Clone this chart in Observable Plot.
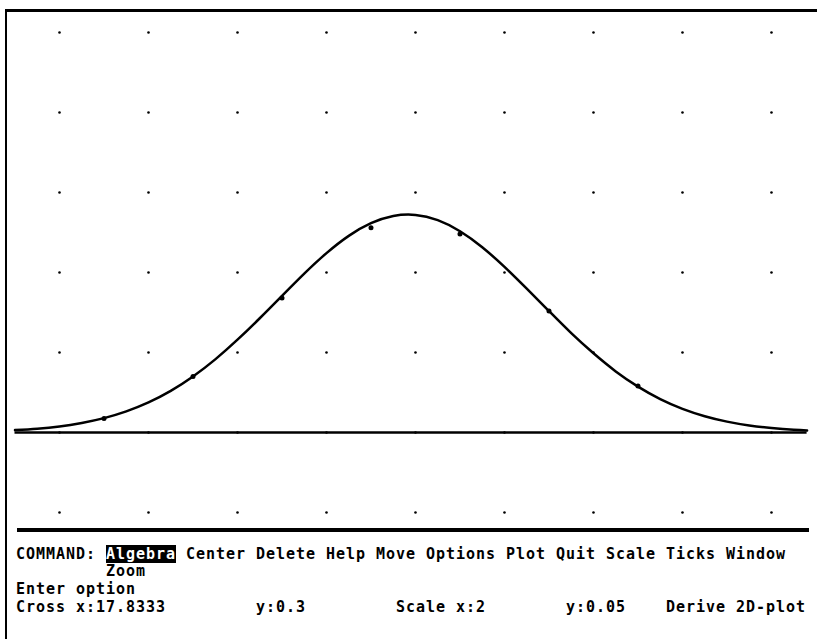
<!DOCTYPE html>
<html>
<head>
<meta charset="utf-8">
<script src="https://cdn.jsdelivr.net/npm/d3@7"></script>
<script src="https://cdn.jsdelivr.net/npm/@observablehq/plot@0.6"></script>
<style>
  html, body { margin: 0; padding: 0; background: white; }
  #screen { position: relative; width: 817px; height: 639px; overflow: hidden; background: white; }
  #chart { position: absolute; left: 0; top: 0; }
  #frame { position: absolute; left: 5px; top: 9px; width: 812px; height: 640px;
           border-top: 3px solid #000; border-left: 2px solid #000; box-sizing: border-box; pointer-events: none; }
  #sep { position: absolute; left: 17px; top: 528px; width: 792px; height: 4px; background: #000; }
  .line { position: absolute; left: 16px; white-space: pre; font-family: "DejaVu Sans Mono", monospace;
          font-weight: bold; font-size: 15px; letter-spacing: 0.97px; line-height: 17px; color: #000; }
  .hi { background: #000; color: #fff; }
</style>
</head>
<body>
<div id="screen">
  <div id="chart"></div>
  <div id="sep"></div>
  <div id="frame"></div>
  <div class="line" id="l1" style="top:546px"></div>
  <div class="line" id="l2" style="top:563px"></div>
  <div class="line" id="l3" style="top:581px"></div>
  <div class="line" id="l4" style="top:599px"></div>
</div>
<script>
// Grid dot positions (Derive tick marks: x step 2, y step 0.05)
const gridX = [10, 12, 14, 16, 18, 20, 22, 24, 26];
const gridY = [-0.05, 0, 0.05, 0.1, 0.15, 0.2, 0.25];

// Plotted curve
const curveX = [9, 9.5, 10, 10.5, 11, 11.5, 12, 12.5, 13, 13.5, 14, 14.5, 15, 15.5, 16, 16.5, 17, 17.5, 18,
                18.5, 19, 19.5, 20, 20.5, 21, 21.5, 22, 22.5, 23, 23.5, 24, 24.5, 25, 25.5, 26, 26.5, 26.8];
const curveY = [0.0015, 0.0024, 0.0038, 0.006, 0.009, 0.0132, 0.0188, 0.026, 0.035, 0.0457, 0.058, 0.0714,
                0.0854, 0.0993, 0.1121, 0.1229, 0.1308, 0.1353, 0.136, 0.1327, 0.1258, 0.1158, 0.1035, 0.0899,
                0.0759, 0.0621, 0.0495, 0.0382, 0.0287, 0.0209, 0.0148, 0.0102, 0.0068, 0.0044, 0.0028, 0.0017, 0.0013];

// Data points
const pointX = [11, 13, 15, 17, 19, 21, 23];
const pointY = [0.0088, 0.035, 0.084, 0.128, 0.124, 0.076, 0.029];

// Command / status line texts
const commandLabel = "COMMAND:";
const menuItems = ["Algebra", "Center", "Delete", "Help", "Move", "Options", "Plot", "Quit", "Scale", "Ticks", "Window", "Zoom"];
const promptText = "Enter option";
const statusFields = ["Cross x:17.8333", "y:0.3", "Scale x:2", "y:0.05", "Derive 2D-plot"];
const statusCols = [0, 24, 38, 55, 65];

const gridPts = d3.cross(gridX, gridY).map(([x, y]) => ({x, y}));
const curve = curveX.map((x, i) => ({x, y: curveY[i]}));
const points = pointX.map((x, i) => ({x, y: pointY[i]}));
const axisRule = [{y: 0, x1: d3.min(curveX), x2: d3.max(curveX)}];

const chart = Plot.plot({
  width: 817,
  height: 528,
  margin: 0,
  x: {domain: [8.674, 27.034], axis: null},
  y: {domain: [-0.06, 0.27], axis: null},
  style: {background: "transparent"},
  marks: [
    Plot.dot(gridPts, {x: "x", y: "y", r: 1.3, fill: "#000", stroke: "none"}),
    Plot.ruleY(axisRule, {y: "y", x1: "x1", x2: "x2", stroke: "#000", strokeWidth: 2.6}),
    Plot.line(curve, {x: "x", y: "y", curve: "natural", stroke: "#000", strokeWidth: 2.5}),
    Plot.dot(points, {x: "x", y: "y", r: 2.5, fill: "#000", stroke: "none"})
  ]
});
document.getElementById("chart").appendChild(chart);

// Text lines
const l1 = document.getElementById("l1");
l1.appendChild(document.createTextNode(commandLabel + " "));
const hi = document.createElement("span");
hi.className = "hi";
hi.textContent = menuItems[0];
l1.appendChild(hi);
l1.appendChild(document.createTextNode(" " + menuItems.slice(1, 11).join(" ")));
document.getElementById("l2").textContent = " ".repeat(commandLabel.length + 1) + menuItems[11];
document.getElementById("l3").textContent = promptText;
let s = "";
statusFields.forEach((f, i) => { s = s.padEnd(statusCols[i], " ") + f; });
document.getElementById("l4").textContent = s;
</script>
</body>
</html>
